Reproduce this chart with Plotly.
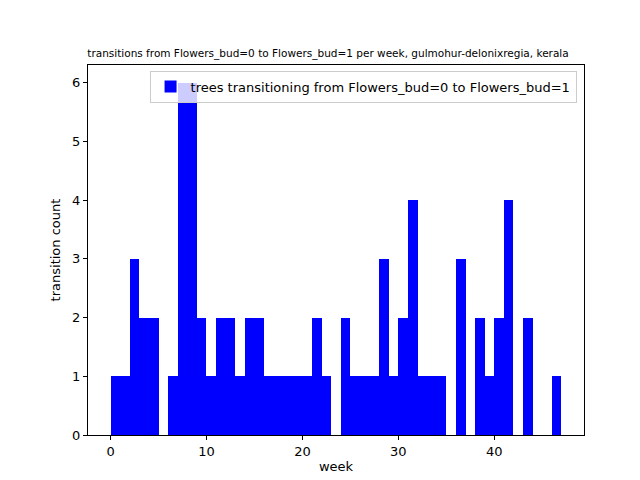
import plotly.graph_objects as go

weeks = list(range(47))
counts = [1, 1, 3, 2, 2, 0, 1, 6, 6, 2,
          1, 2, 2, 1, 2, 2, 1, 1, 1, 1,
          1, 2, 1, 0, 2, 1, 1, 1, 3, 1,
          2, 4, 1, 1, 1, 0, 3, 0, 2, 1,
          2, 4, 0, 2, 0, 0, 1]
x_ticks = [0, 10, 20, 30, 40]
y_ticks = [0, 1, 2, 3, 4, 5, 6]

fig = go.Figure()
fig.add_trace(go.Bar(x=weeks, y=counts, width=1, offset=0, marker_color="#0000ff",
                     marker_line_width=0,
                     name="trees transitioning from Flowers_bud=0 to Flowers_bud=1"))

axis_common = dict(showline=True, linecolor="black", linewidth=1, mirror=True,
                   ticks="outside", ticklen=4, tickcolor="black", showgrid=False,
                   zeroline=False, automargin=False,
                   tickfont=dict(size=13, color="black"),
                   title_font=dict(size=13, color="black"))
fig.update_layout(
    width=640, height=480,
    plot_bgcolor="white", paper_bgcolor="white",
    font=dict(family="DejaVu Sans", color="black"),
    margin=dict(l=80, r=64, t=57, b=53, autoexpand=False),
    bargap=0,
    title=dict(text="transitions from Flowers_bud=0 to Flowers_bud=1 per week, gulmohur-delonixregia, kerala",
               x=0.5, xanchor="center", y=0.905, yanchor="middle", font=dict(size=10.5)),
    xaxis=dict(range=[-2.35, 49.35], tickvals=x_ticks, title=dict(text="week", standoff=4), **axis_common),
    yaxis=dict(range=[0, 6.3], tickvals=y_ticks, title=dict(text="transition count", standoff=8), **axis_common),
    showlegend=True,
    legend=dict(x=0.985, y=0.985, xanchor="right", yanchor="top",
                bgcolor="rgba(255,255,255,0.8)", bordercolor="#cccccc", borderwidth=1,
                font=dict(size=13)),
)
fig.write_html("out.html")
